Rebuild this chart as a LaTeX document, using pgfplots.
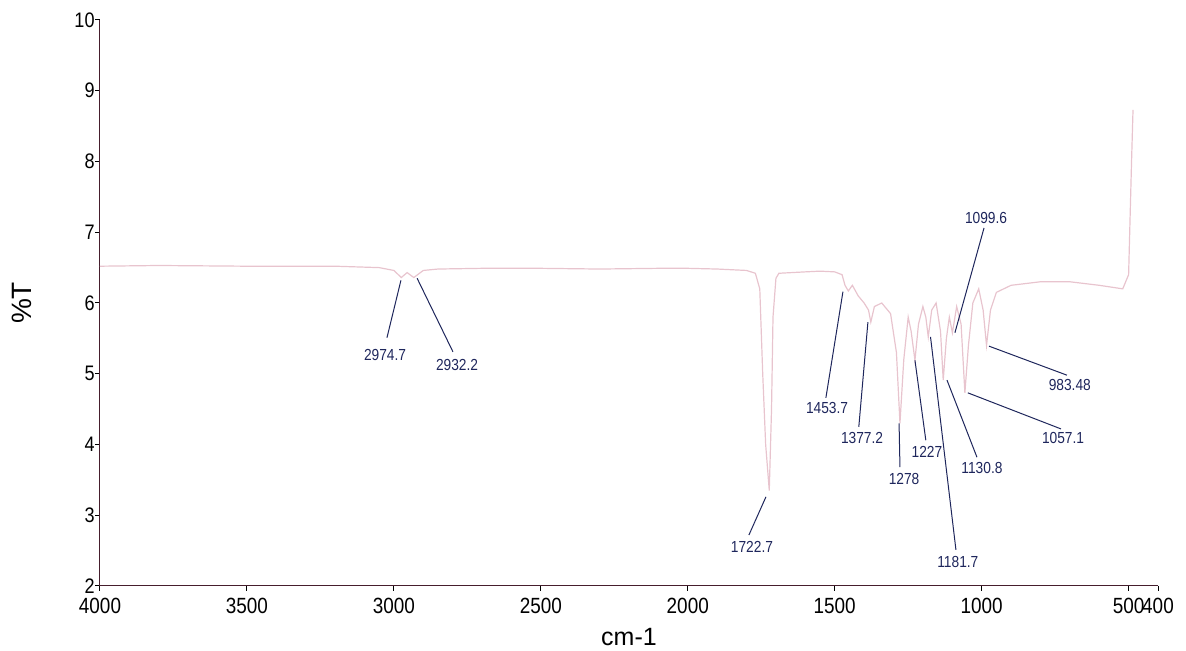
\documentclass[border=0pt]{standalone}
\usepackage{pgfplots}
\pgfplotsset{compat=1.18}
\usepackage{fontspec}
\setmainfont{Liberation Sans}
\newfontfamily\narrowfont{Liberation Sans}[FakeStretch=0.86]
\definecolor{spec}{RGB}{232,196,206}
\definecolor{navy}{RGB}{30,38,92}
\definecolor{axc}{RGB}{70,30,45}
\begin{document}
\begin{tikzpicture}
\useasboundingbox (-50pt,-32.5pt) rectangle (543pt,293pt);
\begin{axis}[
  at={(0,0)}, anchor=south west,
  scale only axis, width=529pt, height=283pt,
  x dir=reverse, xmin=400, xmax=4000, ymin=2, ymax=10,
  axis lines=left, axis line style={axc, line width=0.5pt, -},
  xtick={4000,3500,3000,2500,2000,1500,1000,500,400},
  ytick={2,3,4,5,6,7,8,9,10},
  tick align=outside, major tick length=2.5pt,
  tick style={black, line width=0.5pt},
  /pgf/number format/1000 sep={},
  /pgf/number format/assume math mode=true,
  xticklabel style={font=\narrowfont\fontsize{11}{12}\selectfont, inner sep=1pt, yshift=-2.5pt},
  yticklabel style={font=\narrowfont\fontsize{10.5}{12}\selectfont, inner sep=0pt, xshift=0pt},
  xlabel={cm-1}, xlabel style={font=\fontsize{12.5}{14}\selectfont, at={(axis description cs:0.5,0)}, anchor=center, yshift=-25.5pt},
  ylabel={\%T}, ylabel style={font=\fontsize{14}{16}\selectfont, at={(axis description cs:-0.0737,0.5)}, anchor=center},
  clip=false,
]
\addplot[spec, line width=0.6pt] coordinates {
(4000,6.52) (3800,6.53) (3500,6.52) (3200,6.52) (3050,6.50) (3000,6.46)
(2974.7,6.36) (2955,6.43) (2932.2,6.36) (2900,6.46) (2850,6.48) (2700,6.49)
(2500,6.49) (2300,6.48) (2100,6.49) (2000,6.49) (1900,6.48) (1800,6.46)
(1770,6.42) (1755,6.2) (1745,5.0) (1735,4.0) (1722.7,3.35) (1715,4.5)
(1710,5.8) (1700,6.35) (1690,6.42) (1600,6.44) (1550,6.45) (1500,6.44)
(1475,6.40) (1465,6.25) (1453.7,6.17) (1440,6.25) (1420,6.1) (1400,6.0)
(1385,5.9) (1377.2,5.73) (1365,5.95) (1340,6.0) (1310,5.85) (1290,5.3)
(1278,4.30) (1265,5.2) (1250,5.8) (1240,5.6) (1227,5.19) (1215,5.7)
(1200,5.95) (1190,5.8) (1181.7,5.52) (1170,5.9) (1155,6.0) (1140,5.6)
(1130.8,4.91) (1120,5.5) (1110,5.8) (1099.6,5.58) (1085,5.95) (1070,5.7)
(1057.1,4.73) (1045,5.4) (1030,6.0) (1010,6.2) (995,5.9) (983.48,5.40)
(970,5.9) (950,6.15) (900,6.25) (800,6.3) (700,6.3) (600,6.25)
(520,6.2) (500,6.4) (490,8.0) (485,8.73)
};
\begin{scope}[navy, line width=0.5pt]
\draw (axis cs:3023.5,5.51) -- (axis cs:2976,6.32);
\draw (axis cs:2799,5.31) -- (axis cs:2921,6.35);
\draw (axis cs:1792,2.72) -- (axis cs:1734,3.26);
\draw (axis cs:1530,4.66) -- (axis cs:1472,6.16);
\draw (axis cs:1418,4.25) -- (axis cs:1387,5.73);
\draw (axis cs:1278,3.68) -- (axis cs:1281,4.30);
\draw (axis cs:1190,4.06) -- (axis cs:1227,5.19);
\draw (axis cs:1087.5,2.51) -- (axis cs:1174,5.52);
\draw (axis cs:1016,3.82) -- (axis cs:1118,4.91);
\draw (axis cs:992,7.06) -- (axis cs:1091,5.58);
\draw (axis cs:710,4.98) -- (axis cs:975,5.39);
\draw (axis cs:730,4.22) -- (axis cs:1047,4.73);
\end{scope}
\begin{scope}[every node/.style={navy, font=\narrowfont\fontsize{8}{9}\selectfont, inner sep=0pt}]
\node at (axis cs:3030,5.27) {2974.7};
\node at (axis cs:2785,5.12) {2932.2};
\node at (axis cs:1781.6,2.55) {1722.7};
\node at (axis cs:1526,4.52) {1453.7};
\node at (axis cs:1407,4.09) {1377.2};
\node at (axis cs:1264,3.51) {1278};
\node at (axis cs:1186,3.89) {1227};
\node at (axis cs:1081,2.34) {1181.7};
\node at (axis cs:999,3.67) {1130.8};
\node at (axis cs:985,7.20) {1099.6};
\node at (axis cs:700,4.84) {983.48};
\node at (axis cs:723,4.09) {1057.1};
\end{scope}
\end{axis}
\end{tikzpicture}
\end{document}
